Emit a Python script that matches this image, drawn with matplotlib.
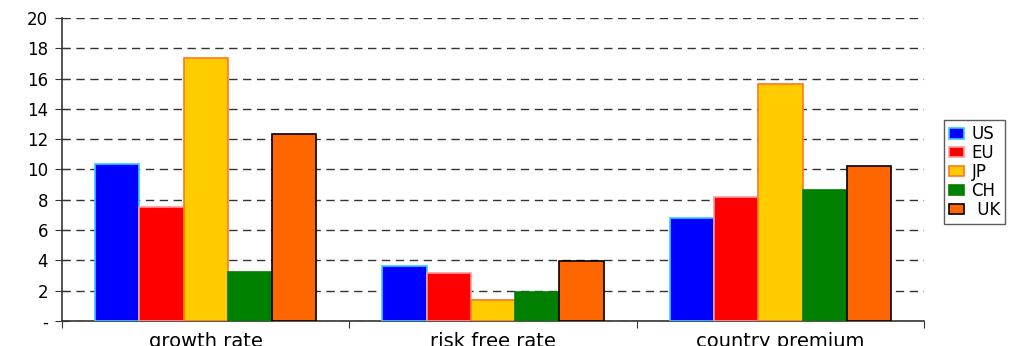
import matplotlib
matplotlib.use("Agg")
import matplotlib.pyplot as plt
import numpy as np

categories = ["growth rate", "risk free rate", "country premium"]
series_names = ["US", "EU", "JP", "CH", " UK"]
us = [10.36, 3.63, 6.80]
eu = [7.52, 3.17, 8.18]
jp = [17.36, 1.39, 15.64]
ch = [3.23, 1.91, 8.65]
uk = [12.34, 3.96, 10.23]
y_ticks = [0, 2, 4, 6, 8, 10, 12, 14, 16, 18, 20]
y_tick_labels = ["-", "2", "4", "6", "8", "10", "12", "14", "16", "18", "20"]

fill_colors = ["#0000FF", "#FF0000", "#FFCC00", "#008000", "#FF6600"]
edge_colors = ["#33CCFF", "#FF9999", "#FF7722", "#008000", "#000000"]

plt.rcParams["font.family"] = ["DejaVu Sans"]

fig = plt.figure(figsize=(10.10, 3.46), dpi=100)
ax = fig.add_axes([0.0614, 0.0723, 0.8535, 0.8757])

x = np.arange(len(categories))
n = len(series_names)
width = 0.77 / n
for i, (vals, name) in enumerate(zip([us, eu, jp, ch, uk], series_names)):
    offs = (i - (n - 1) / 2) * width
    ax.bar(x + offs, vals, width, color=fill_colors[i], edgecolor=edge_colors[i],
           linewidth=1.2, label=name, zorder=3)

ax.set_xlim(-0.5, len(categories) - 0.5)
ax.set_ylim(0, 20)
ax.set_yticks(y_ticks)
ax.set_yticklabels(y_tick_labels, fontsize=12)
ax.yaxis.grid(True, linestyle=(0, (6, 4)), color="#333333", linewidth=1.0, zorder=0)
ax.set_axisbelow(True)

# category boundaries as ticks, names centred between them
ax.set_xticks(np.arange(len(categories) + 1) - 0.5)
ax.set_xticklabels([])
ax.set_xticks(x, minor=True)
ax.set_xticklabels(categories, minor=True, fontsize=14)
ax.tick_params(axis="x", which="minor", length=0, pad=8)
ax.tick_params(axis="x", which="major", direction="out", length=5, color="#333333")
ax.tick_params(axis="y", direction="inout", length=10, color="#333333", pad=5)

for s in ["top", "right"]:
    ax.spines[s].set_visible(False)
for s in ["left", "bottom"]:
    ax.spines[s].set_color("#333333")
    ax.spines[s].set_linewidth(1.2)

leg = ax.legend(loc="upper left", bbox_to_anchor=(1.0232, 0.662), fontsize=12,
                frameon=True, fancybox=False, edgecolor="#333333",
                handlelength=0.9, handleheight=0.55, handletextpad=0.45,
                labelspacing=0.05, borderpad=0.3, borderaxespad=0)
leg.get_frame().set_linewidth(1.0)

fig.savefig("out.png", dpi=100)
